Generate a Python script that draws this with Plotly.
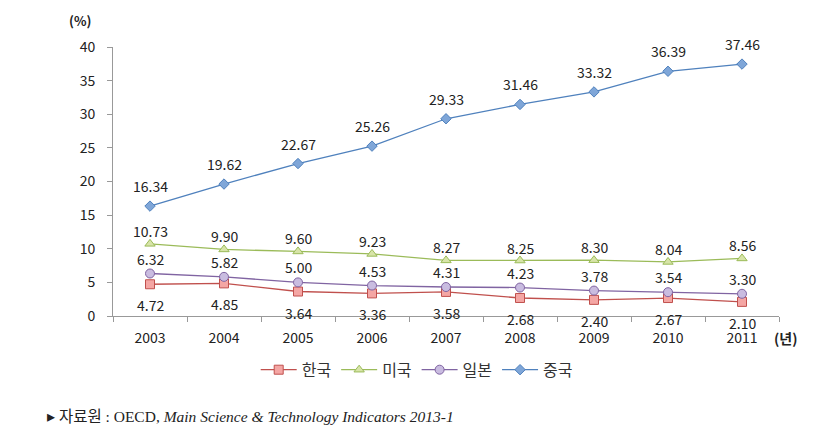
import plotly.graph_objects as go

years = ["2003", "2004", "2005", "2006", "2007", "2008", "2009", "2010", "2011"]
korea = [4.72, 4.85, 3.64, 3.36, 3.58, 2.68, 2.40, 2.67, 2.10]
usa = [10.73, 9.90, 9.60, 9.23, 8.27, 8.25, 8.30, 8.04, 8.56]
japan = [6.32, 5.82, 5.00, 4.53, 4.31, 4.23, 3.78, 3.54, 3.30]
china = [16.34, 19.62, 22.67, 25.26, 29.33, 31.46, 33.32, 36.39, 37.46]
names = ["한국", "미국", "일본", "중국"]
y_ticks = [0, 5, 10, 15, 20, 25, 30, 35, 40]

font_main = "Noto Sans CJK KR, Noto Sans, sans-serif"

series = [
    (names[0], korea, "#C0504D", "#F4A6A4", "square", -21),
    (names[1], usa, "#9BBB59", "#D7E4A8", "triangle-up", 13),
    (names[2], japan, "#8064A2", "#C9BCE0", "circle", 15),
    (names[3], china, "#4F81BD", "#7FA6D8", "diamond", 20),
]

fig = go.Figure()
annotations = []
for name, vals, lc, fc, sym, shift in series:
    fig.add_trace(go.Scatter(
        x=years, y=vals, name=name, mode="lines+markers",
        line=dict(color=lc, width=1.3),
        marker=dict(symbol=sym, size=9 if sym != "diamond" else 8,
                    color=fc, line=dict(color=lc, width=1)),
    ))
    for i, yv in enumerate(vals):
        annotations.append(dict(
            x=i, y=yv, xref="x", yref="y", text=f"{yv:.2f}",
            showarrow=False, yshift=shift,
            font=dict(family=font_main, size=14, color="#222222"),
        ))

annotations.append(dict(x=-0.03, y=1.10, xref="paper", yref="paper", text="<b>(%)</b>",
                        xanchor="right", yanchor="middle", showarrow=False,
                        font=dict(family=font_main, size=13, color="#222")))
annotations.append(dict(x=0.989, y=-0.082, xref="paper", yref="paper", text="<b>(년)</b>",
                        xanchor="left", yanchor="middle", showarrow=False,
                        font=dict(family=font_main, size=14, color="#222")))
annotations.append(dict(
    x=-0.102, y=-0.375, xref="paper", yref="paper", xanchor="left", yanchor="middle",
    text="▸ 자료원 : OECD, <i>Main Science &amp; Technology Indicators 2013-1</i>",
    showarrow=False,
    font=dict(family="Liberation Serif, Noto Sans CJK KR, serif", size=15.5, color="#222")))

fig.update_layout(
    width=807, height=430,
    margin=dict(l=105, r=36, t=39, b=122, autoexpand=False),
    paper_bgcolor="white", plot_bgcolor="white",
    showlegend=True,
    legend=dict(orientation="h", x=0.456, xanchor="center", y=-0.2, yanchor="middle",
                font=dict(family=font_main, size=16, color="#333"),
                itemwidth=36, traceorder="normal"),
    xaxis=dict(type="category", categoryorder="array", categoryarray=years,
               range=[-0.5, 8.5], showline=True, linecolor="#999999", linewidth=1,
               ticks="outside", tickcolor="#999999", ticklen=5, tickson="boundaries",
               ticklabelstandoff=9,
               showgrid=False, zeroline=False,
               tickfont=dict(family=font_main, size=14, color="#222")),
    yaxis=dict(range=[0, 40], tickvals=y_ticks, showline=True, linecolor="#999999",
               linewidth=1, ticks="outside", tickcolor="#999999", ticklen=5,
               ticklabelstandoff=9,
               showgrid=False, zeroline=False,
               tickfont=dict(family=font_main, size=14, color="#222")),
    annotations=annotations,
)

fig.write_html("out.html")
